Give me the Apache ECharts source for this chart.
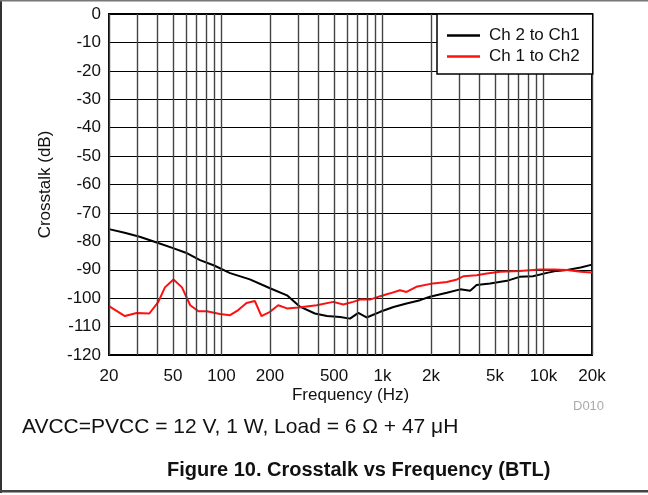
<!DOCTYPE html>
<html><head><meta charset="utf-8">
<script src="https://cdn.jsdelivr.net/npm/echarts@6/dist/echarts.min.js"></script>
<style>html,body{margin:0;padding:0;background:#fff}#c{width:648px;height:495px}</style>
</head><body><div id="c"></div>
<script>
// Ch 2 to Ch1 (black)
var ch2Freq = [20,25,31,40,50,60,73.5,90,113,150,200,255,307,380,452,545,628,707,796,967,1170,1410,1710,1970,2510,3040,3500,3840,4660,5920,7100,8600,10500,12050,14000,17000,20000];
var ch2Db   = [-75.7,-77,-78.4,-80.5,-82.4,-84,-86.6,-88.5,-91.2,-93.4,-96.5,-99,-103,-105.4,-106.3,-106.6,-107.2,-105.2,-106.8,-104.8,-103.1,-101.9,-100.7,-99.5,-98.1,-96.9,-97.4,-95.4,-94.8,-93.9,-92.5,-92.3,-91.1,-90.4,-90.1,-89.2,-88.2];
// Ch 1 to Ch2 (red)
var ch1Freq = [20,25.1,29.7,35.6,40.5,44.5,50.3,56.8,63.9,71.9,81,97.8,113,127,143,161,177,200,225,255,300,390,494,570,656,727,837,967,1115,1283,1410,1620,2060,2510,2900,3170,3840,4440,5370,7100,9530,11550,14000,17000,20000];
var ch1Db   = [-102.8,-106.3,-105.2,-105.4,-101.3,-96.2,-93.4,-96.2,-102.5,-104.6,-104.6,-105.6,-106,-104.2,-101.7,-101,-106.3,-104.8,-102.5,-103.6,-103.3,-102.5,-101.3,-102.2,-101.3,-100.5,-100.5,-99.3,-98.3,-97.2,-97.8,-96,-94.8,-94.3,-93.4,-92.3,-91.9,-91.3,-90.7,-90.4,-89.9,-89.9,-90.1,-90.7,-91];
// vertical grid frequencies and x tick labels
var gridFreqs = [20,30,40,50,60,70,80,90,100,200,300,400,500,600,700,800,900,1000,2000,3000,4000,5000,6000,7000,8000,9000,10000,20000];
var xTickVals = [20,50,100,200,500,1000,2000,5000,10000,20000];
var xTickText = ['20','50','100','200','500','1k','2k','5k','10k','20k'];
var seriesNames = ['Ch 2 to Ch1','Ch 1 to Ch2'];

function pairs(a,b){return a.map(function(v,i){return [v,b[i]];});}
var FONT = 'Liberation Sans, Arial, sans-serif';
var chart = echarts.init(document.getElementById('c'));
var mlData = gridFreqs.map(function(f){
  var k = xTickVals.indexOf(f);
  return {xAxis:f, label:{show:k>=0, formatter:k>=0?xTickText[k]:''}};
});
chart.setOption({
  animation:false,
  backgroundColor:'#fff',
  grid:{left:109,right:56,top:14,bottom:140,show:true,borderColor:'#000',borderWidth:2,backgroundColor:'transparent'},
  xAxis:{type:'log',logBase:10,min:20,max:20000,
    axisLine:{show:false},axisTick:{show:false},axisLabel:{show:false},splitLine:{show:false},
    name:'Frequency (Hz)',nameLocation:'middle',nameGap:32,
    nameTextStyle:{fontFamily:FONT,fontSize:17,color:'#111'}},
  yAxis:{type:'value',min:-120,max:0,interval:10,
    axisLine:{show:false},axisTick:{show:false},
    axisLabel:{fontFamily:FONT,fontSize:17,color:'#111',margin:8},
    splitLine:{show:true,lineStyle:{color:'#000',width:1}},
    name:'Crosstalk (dB)',nameLocation:'middle',nameGap:55,nameRotate:90,
    nameTextStyle:{fontFamily:FONT,fontSize:17,color:'#111'}},
  legend:{data:seriesNames,orient:'vertical',left:437,top:14,z:20,
    icon:'rect',itemWidth:33,itemHeight:2.5,itemGap:4,
    backgroundColor:'#fff',borderColor:'#000',borderWidth:1.5,borderRadius:0,
    padding:[13,13,9,10],
    textStyle:{fontFamily:FONT,fontSize:17,color:'#111',padding:[0,0,0,4]}},
  series:[
    {type:'line',name:'grid',data:[],z:1,silent:true,
     markLine:{silent:true,symbol:['none','none'],animation:false,
       lineStyle:{color:'#444',width:1.4,type:'solid'},
       label:{position:'start',distance:13,fontFamily:FONT,fontSize:17,color:'#111'},
       emphasis:{disabled:true},
       data:mlData}},
    {type:'line',name:seriesNames[0],data:pairs(ch2Freq,ch2Db),showSymbol:false,z:3,
     lineStyle:{color:'#000',width:2},itemStyle:{color:'#000'}},
    {type:'line',name:seriesNames[1],data:pairs(ch1Freq,ch1Db),showSymbol:false,z:4,
     lineStyle:{color:'#ff1010',width:2},itemStyle:{color:'#ff1010'}}
  ],
  graphic:[
    {type:'rect',shape:{x:0,y:0,width:2,height:493},style:{fill:'#333'}},
    {type:'rect',shape:{x:0,y:0,width:648,height:1.5},style:{fill:'#777'}},
    {type:'rect',shape:{x:0,y:490,width:648,height:2.5},style:{fill:'#444'}},
    {type:'text',left:573,top:400,style:{text:'D010',fontFamily:FONT,fontSize:13,fill:'#aaa'}},
    {type:'text',left:22,top:417,style:{text:'AVCC=PVCC = 12 V, 1 W, Load = 6 \u03A9 + 47 \u03BCH',fontFamily:FONT,fontSize:21,fill:'#111'}},
    {type:'text',left:167,top:460,style:{text:'Figure 10. Crosstalk vs Frequency (BTL)',fontFamily:FONT,fontSize:20,fontWeight:'bold',fill:'#111'}}
  ]
});
</script></body></html>
